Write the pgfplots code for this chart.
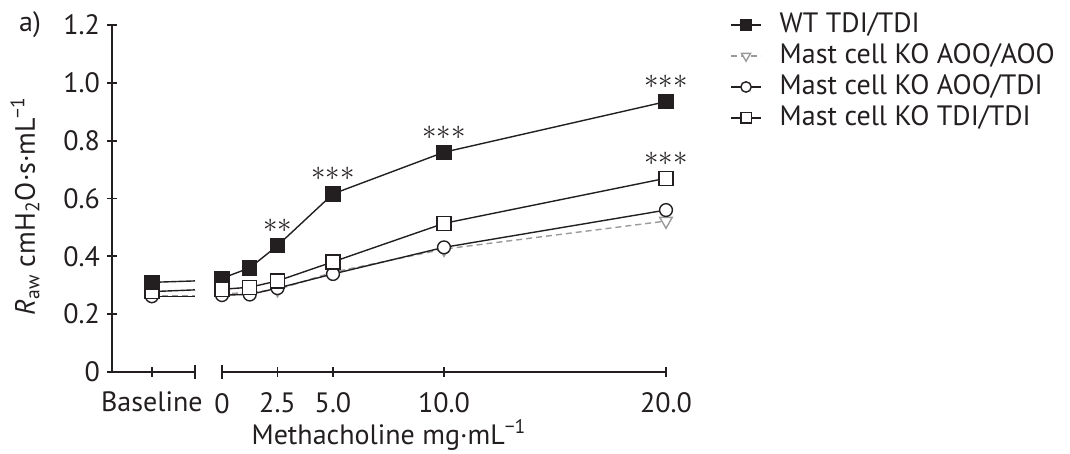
\documentclass[border=0pt]{standalone}
\usepackage{fontspec}
\setmainfont{PT Sans}
\usepackage{pgfplots}
\pgfplotsset{compat=1.18}
\definecolor{ink}{HTML}{231F20}
\definecolor{gr}{HTML}{9A9A9A}
\newcommand{\fs}{\fontsize{14}{16}\selectfont}
\newcommand{\stars}[1]{$\ifcase#1\or{\ast}\or{\ast}{\ast}\or{\ast}{\ast}{\ast}\fi$}

\pgfplotsset{
  common/.style={
    scale only axis, height=173.5pt, ymin=0, ymax=1.2,
    clip=false, enlargelimits=false,
    axis line style={ink, line width=0.9pt},
    every non boxed x axis/.append style={x axis line style={-}},
    every non boxed y axis/.append style={y axis line style={-}},
    tick style={ink, line width=0.9pt},
    major tick length=5pt, tick align=outside,
    tick label style={font=\fs, text=ink},
    xticklabel style={yshift=-4pt},
    every axis plot/.append style={line width=0.7pt},
  },
  wt/.style={ink, mark=square*, mark size=3.5pt, mark options={fill=ink, solid}},
  aa/.style={gr, densely dashed, mark=triangle*, mark size=3.6pt, mark options={fill=white, rotate=180, solid}},
  at/.style={ink, mark=*, mark size=3.2pt, mark options={fill=white, solid}},
  tt/.style={ink, mark=square*, mark size=3.5pt, mark options={fill=white, solid}},
}

\begin{document}
\begin{tikzpicture}
\useasboundingbox (-56pt,-41pt) rectangle (479pt,186pt);

% baseline segment
\begin{axis}[common, anchor=south west, width=41.5pt,
  xmin=0, xmax=1,
  axis x line=bottom, axis y line=left,
  x axis line style={-}, y axis line style={-},
  xtick={0.48}, xticklabels={Baseline},
  extra x ticks={1}, extra x tick labels={},
  extra x tick style={tick align=center, major tick length=7pt},
  ytick={0,0.2,0.4,0.6,0.8,1.0,1.2},
  yticklabels={0,0.2,0.4,0.6,0.8,1.0,1.2}]
\addplot[aa, mark indices={1}] coordinates {(0.48,0.265) (1,0.265)};
\addplot[at, mark indices={1}] coordinates {(0.48,0.262) (1,0.262)};
\addplot[tt, mark indices={1}] coordinates {(0.48,0.278) (1,0.284)};
\addplot[wt, mark indices={1}] coordinates {(0.48,0.31) (1,0.315)};
\end{axis}

% methacholine segment
\begin{scope}[xshift=55pt]
\begin{axis}[common, anchor=south west, width=222pt,
  xmin=0, xmax=20,
  axis x line=bottom, axis y line=none,
  x axis line style={-},
  xtick={2.5,5,10,20}, xticklabels={2.5,5.0,10.0,20.0},
  extra x ticks={0}, extra x tick labels={0},
  extra x tick style={tick align=center, major tick length=7pt},
  legend style={at={(1.144,1.043)}, anchor=north west, draw=none, fill=none,
    inner sep=0pt, font=\fs, row sep=1pt,
    /tikz/every odd column/.append style={column sep=8pt},
    nodes={inner sep=1pt, text height=10pt, text depth=2.5pt, text=ink}},
  legend cell align=left,
  legend image code/.code={\draw[mark repeat=2,mark phase=2,#1]
    plot coordinates {(0pt,0pt) (7.5pt,0pt) (15pt,0pt)};},
  legend image post style={mark size=2.6pt}]
\addplot[wt] coordinates {(0,0.324) (1.25,0.36) (2.5,0.437) (5,0.616) (10,0.76) (20,0.935)};
\addlegendentry{WT TDI/TDI}
\addplot[aa] coordinates {(0,0.27) (1.25,0.275) (2.5,0.285) (5,0.345) (10,0.425) (20,0.522)};
\addlegendentry{Mast cell KO AOO/AOO}
\addplot[at] coordinates {(0,0.266) (1.25,0.268) (2.5,0.29) (5,0.339) (10,0.431) (20,0.56)};
\addlegendentry{Mast cell KO AOO/TDI}
\addplot[tt] coordinates {(0,0.286) (1.25,0.293) (2.5,0.315) (5,0.381) (10,0.514) (20,0.67)};
\addlegendentry{Mast cell KO TDI/TDI}

\node[font=\fs, text=ink, anchor=base, yshift=6.5pt] at (axis cs:2.5,0.437) {\stars{2}};
\node[font=\fs, text=ink, anchor=base, yshift=6.5pt] at (axis cs:5,0.616) {\stars{3}};
\node[font=\fs, text=ink, anchor=base, yshift=6.5pt] at (axis cs:10,0.76) {\stars{3}};
\node[font=\fs, text=ink, anchor=base, yshift=6.5pt] at (axis cs:20,0.935) {\stars{3}};
\node[font=\fs, text=ink, anchor=base, yshift=6.5pt] at (axis cs:20,0.67) {\stars{3}};
\end{axis}
\end{scope}

\node[font=\fs, text=ink] at (-41pt,173.5pt) {a)};
\node[font=\fs, text=ink, rotate=90] at (-43.5pt,83pt)
  {\textit{R}\textsubscript{aw} cmH\textsubscript{2}O·s·mL\textsuperscript{−1}};
\node[font=\fs, text=ink] at (138.5pt,-31.5pt) {Methacholine mg·mL\textsuperscript{−1}};
\end{tikzpicture}
\end{document}
